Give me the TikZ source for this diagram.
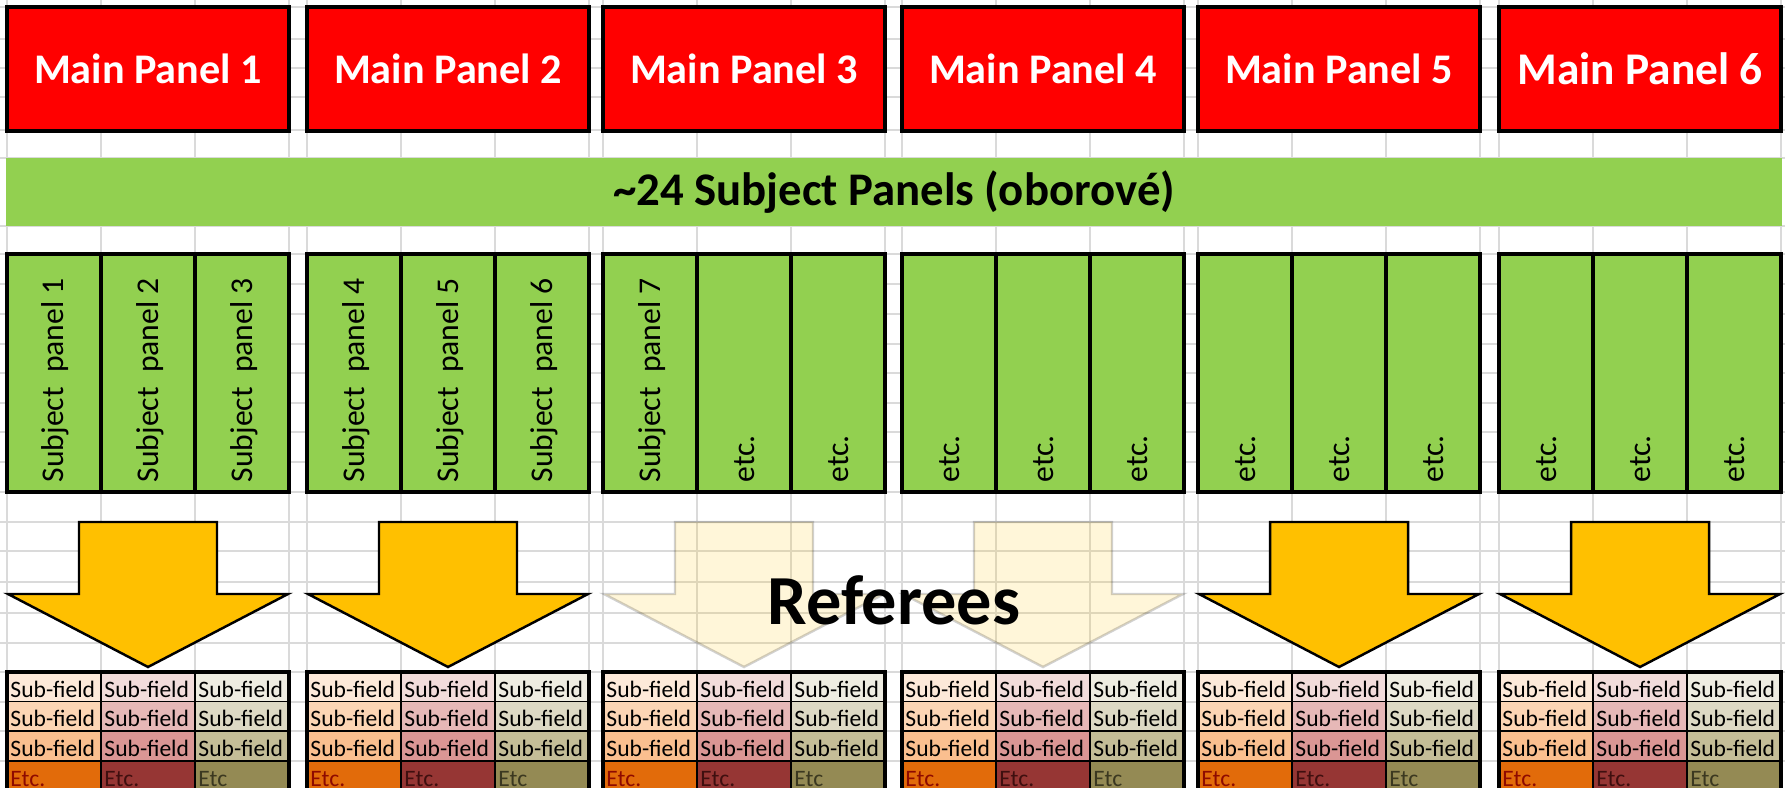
\documentclass[tikz,border=0pt]{standalone}
\usepackage{fontspec}
\setmainfont{Carlito}
\definecolor{xlred}{HTML}{FF0000}
\definecolor{xlgreen}{HTML}{92D050}
\definecolor{xlgold}{HTML}{FFC000}
\definecolor{xlgrid}{HTML}{DADADA}
\definecolor{fa1}{HTML}{FDE9D9}
\definecolor{fa2}{HTML}{FCD5B4}
\definecolor{fa3}{HTML}{FABF8F}
\definecolor{fa4}{HTML}{E26B0A}
\definecolor{fb1}{HTML}{F2DCDB}
\definecolor{fb2}{HTML}{E6B8B7}
\definecolor{fb3}{HTML}{DA9694}
\definecolor{fb4}{HTML}{963634}
\definecolor{fc1}{HTML}{EEECE1}
\definecolor{fc2}{HTML}{DDD9C4}
\definecolor{fc3}{HTML}{C4BD97}
\definecolor{fc4}{HTML}{948A54}
\definecolor{ea}{HTML}{8E0A00}
\definecolor{eb}{HTML}{3F0F0F}
\definecolor{ec}{HTML}{3B3820}
\tikzset{
x=0.01cm, y=-0.01cm, % one unit is one pixel of the sheet, rows go down
gridline/.style={draw=xlgrid, line width=0.3pt}, % the faint cell grid
mainpanel/.style={draw, line width=1.15pt, fill=xlred, text=white, minimum width=2.81cm, minimum height=1.23cm, inner sep=0pt}, % red boxes
band/.style={fill=xlgreen, minimum width=17.74cm, minimum height=0.68cm, inner sep=0pt, font=\bfseries\fontsize{13.3}{15}\selectfont}, % long green strip
subcell/.style={draw, line width=0.9pt, fill=xlgreen, minimum width=0.94cm, minimum height=2.38cm, inner sep=0pt}, % one subject column
sublabel/.style={rotate=90, anchor=base west, inner sep=0pt, font=\fontsize{9}{11}\selectfont}, % text going up in it
refarrow/.style={draw, line width=0.7pt, fill=xlgold, line join=miter}, % gold arrows
fadearrow/.style={draw=black, draw opacity=0.18, fill=xlgold, fill opacity=0.15, line width=0.7pt, line join=miter}, % pale arrows behind the word
refword/.style={inner sep=0pt, font=\bfseries\fontsize{20}{24}\selectfont}, % the big word
fieldcell/.style={draw, line width=0.45pt, inner xsep=0.035cm, inner ysep=0pt, text width=0.87cm, align=left, text height=0.25cm, text depth=0.047cm, font=\fontsize{6.7}{8}\selectfont}, % one sub-field
tableframe/.style={draw, line width=0.9pt}, % thick edge round each table
}
\begin{document}
\begin{tikzpicture}
\useasboundingbox (0,0) rectangle (1785,788);
\clip (0,0) rectangle (1785,788);
\foreach \y in {7,39,68,97,130,158,226,254,284,314,344,373,403,432,462,492,522,551,582,613,643,672,702,731,761}
\draw[gridline] (0,\y) -- (1785,\y);
\foreach \x in {7,307,603,902,1198,1499}
\foreach \d in {0,94,188,282}
\draw[gridline] (\x+\d,0) -- (\x+\d,788);
\node[band] (sp) at (894,192) {\textasciitilde24 Subject Panels (oborové)};
\foreach \x/\ars/\fs [count=\g] in {7/refarrow/12,307/refarrow/12,603/fadearrow/12,902/fadearrow/12,1198/refarrow/12,1499/refarrow/12.9}{
\node[mainpanel, font=\bfseries\fontsize{\fs}{16}\selectfont] (mp\g) at (\x+141,69) {Main Panel \g};
\foreach \k in {1,2,3}{
\pgfmathtruncatemacro\n{3*(\g-1)+\k}
\node[subcell] (sp\n) at (\x+94*\k-47,373) {};
\node[sublabel] (spt\n) at (\x+94*\k-37,483) {\ifnum\n<8 Subject\ \ panel \n\else etc.\fi};
}
\draw[\ars] (\x+72,522) -- (\x+210,522) -- (\x+210,594) -- (\x+281,594) -- (\x+141,667) -- (\x+1,594) -- (\x+72,594) -- cycle;
\foreach \k/\ca/\cb/\cc/\cd/\ce/\et in {1/fa1/fa2/fa3/fa4/ea/Etc.,2/fb1/fb2/fb3/fb4/eb/Etc.,3/fc1/fc2/fc3/fc4/ec/Etc}{
\node[fieldcell, fill=\ca] (sf\g\k a) at (\x+94*\k-47,687) {\mbox{Sub-field}};
\node[fieldcell, fill=\cb] (sf\g\k b) at (\x+94*\k-47,716.5) {\mbox{Sub-field}};
\node[fieldcell, fill=\cc] (sf\g\k c) at (\x+94*\k-47,746) {\mbox{Sub-field}};
\node[fieldcell, fill=\cd, text=\ce] (sf\g\k d) at (\x+94*\k-47,776) {\et};
}
\draw[tableframe] (\x,672) rectangle (\x+282,800);
}
\node[refword] (ref) at (894,600) {Referees};
\end{tikzpicture}
\end{document}
